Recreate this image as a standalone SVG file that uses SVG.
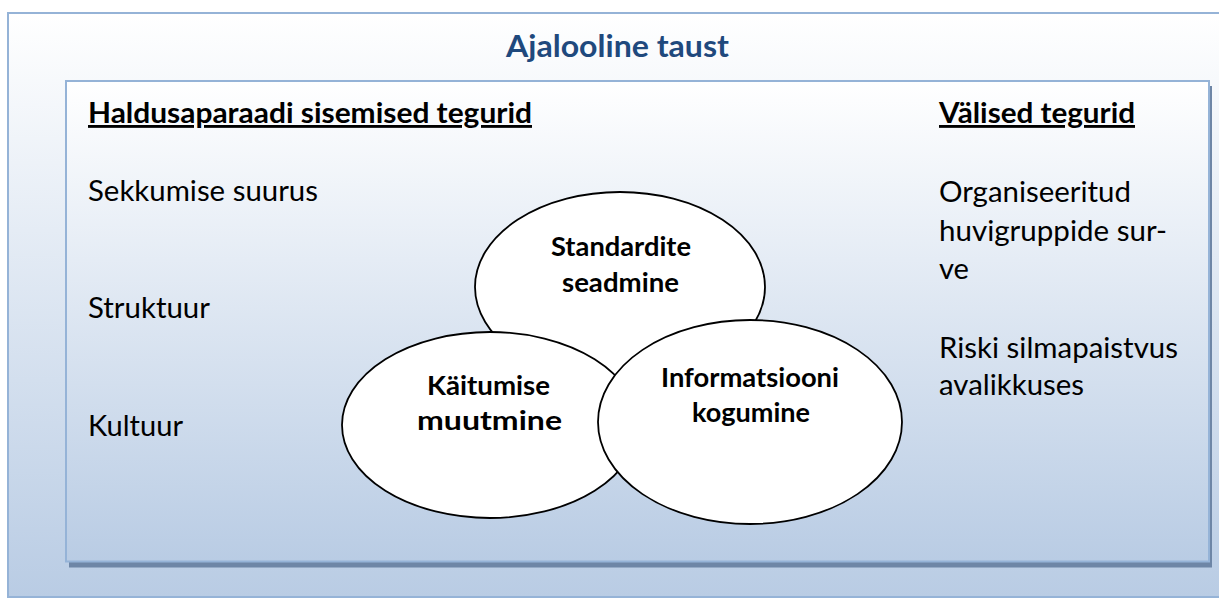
<svg xmlns="http://www.w3.org/2000/svg" width="1219" height="599" viewBox="0 0 1219 599">
<defs>
<linearGradient id="gOuter" x1="0" y1="0" x2="0" y2="1">
<stop offset="0" stop-color="#ffffff"/>
<stop offset="1" stop-color="#b9cce4"/>
</linearGradient>
<linearGradient id="gInner" x1="0" y1="0" x2="0" y2="1">
<stop offset="0" stop-color="#ffffff"/>
<stop offset="1" stop-color="#b9cce4"/>
</linearGradient>
<style>
.frame{stroke:#95b3d7;stroke-width:2}
.ell{fill:#ffffff;stroke:#000000;stroke-width:1.8}
.t{font-family:Lato,"Liberation Sans",sans-serif;fill:#000000}
.body{font-size:28.5px}
.head{font-size:28.5px;font-weight:bold;text-decoration:underline}
.lab{font-size:26px;font-weight:bold;text-anchor:middle}
.title{font-size:30.5px;font-weight:bold;fill:#1f497d;text-anchor:middle}
</style>
</defs>
<g id="background">
<rect x="8" y="13" width="1215" height="584" fill="url(#gOuter)" class="frame"/>
<text class="t title" x="617.5" y="57" textLength="223" lengthAdjust="spacingAndGlyphs">Ajalooline taust</text>
</g>
<g id="panel">
<rect x="69" y="86" width="1143" height="481.5" fill="#6e86a6"/>
<rect x="66" y="81" width="1143" height="480.5" fill="url(#gInner)" class="frame"/>
</g>
<g id="internal-factors">
<text class="t head" x="88" y="123" textLength="444" lengthAdjust="spacingAndGlyphs">Haldusaparaadi sisemised tegurid</text>
<text class="t body" x="88" y="201" textLength="230" lengthAdjust="spacingAndGlyphs">Sekkumise suurus</text>
<text class="t body" x="88" y="318" textLength="122" lengthAdjust="spacingAndGlyphs">Struktuur</text>
<text class="t body" x="88" y="436" textLength="95" lengthAdjust="spacingAndGlyphs">Kultuur</text>
</g>
<g id="external-factors">
<text class="t head" x="939" y="123" textLength="196" lengthAdjust="spacingAndGlyphs">Välised tegurid</text>
<text class="t body" x="939" y="202" textLength="192" lengthAdjust="spacingAndGlyphs">Organiseeritud</text>
<text class="t body" x="939" y="241" textLength="228" lengthAdjust="spacingAndGlyphs">huvigruppide sur-</text>
<text class="t body" x="939" y="279" textLength="30" lengthAdjust="spacingAndGlyphs">ve</text>
<text class="t body" x="939" y="358" textLength="239" lengthAdjust="spacingAndGlyphs">Riski silmapaistvus</text>
<text class="t body" x="939" y="395" textLength="145" lengthAdjust="spacingAndGlyphs">avalikkuses</text>
</g>
<g id="node-standardite">
<ellipse class="ell" cx="620" cy="287" rx="145" ry="95"/>
<text class="t lab" x="621" y="256" textLength="140" lengthAdjust="spacingAndGlyphs">Standardite</text>
<text class="t lab" x="620.5" y="292" textLength="117" lengthAdjust="spacingAndGlyphs">seadmine</text>
</g>
<g id="node-kaitumise">
<ellipse class="ell" cx="490" cy="425" rx="148" ry="93"/>
<text class="t lab" x="488.5" y="395" textLength="123" lengthAdjust="spacingAndGlyphs">Käitumise</text>
<text class="t lab" x="489.5" y="430" textLength="145" lengthAdjust="spacingAndGlyphs">muutmine</text>
</g>
<g id="node-informatsiooni">
<ellipse class="ell" cx="750" cy="422" rx="152" ry="102"/>
<text class="t lab" x="750" y="387" textLength="178" lengthAdjust="spacingAndGlyphs">Informatsiooni</text>
<text class="t lab" x="751" y="422" textLength="118" lengthAdjust="spacingAndGlyphs">kogumine</text>
</g>
<g id="connectors"/>
</svg>
